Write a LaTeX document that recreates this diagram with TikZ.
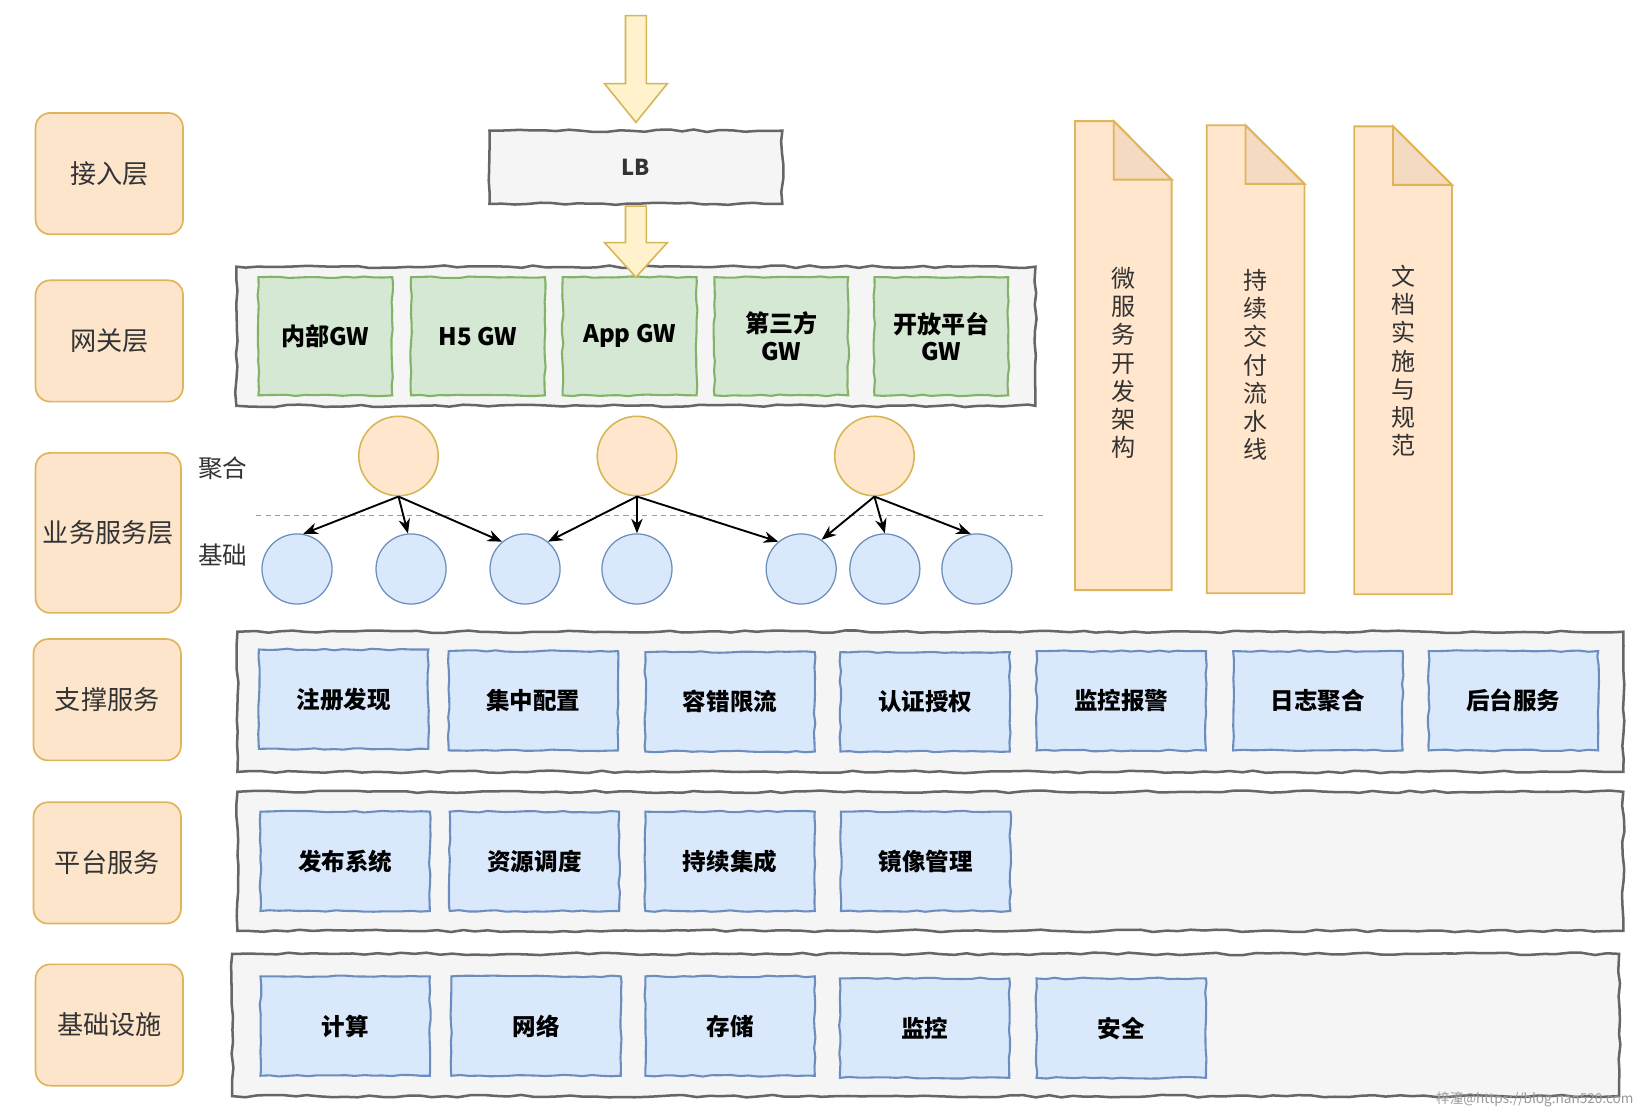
\documentclass[tikz,border=0pt]{standalone}
\usepackage{fontspec}
\setmainfont{Noto Sans CJK SC}
\usetikzlibrary{arrows.meta,decorations.pathmorphing}
\definecolor{lblfill}{HTML}{FDE5CC}
\definecolor{lblstroke}{HTML}{E0B45A}
\definecolor{cfill}{HTML}{F5F5F5}
\definecolor{cstroke}{HTML}{666666}
\definecolor{gfill}{HTML}{D5E8D4}
\definecolor{gstroke}{HTML}{82B366}
\definecolor{bfill}{HTML}{DAE8FC}
\definecolor{bstroke}{HTML}{6C8EBF}
\definecolor{ofill}{HTML}{FFE6CC}
\definecolor{foldfill}{HTML}{F3DAC0}
\definecolor{yfill}{HTML}{FFF2CC}
\definecolor{ystroke}{HTML}{D6B656}
\definecolor{txt}{HTML}{333333}
\begin{document}
\begin{tikzpicture}[x=1pt,y=-1pt,
  labelbox/.style={draw=lblstroke, fill=lblfill, rounded corners=14pt, line width=1.6pt,
    font=\fontsize{25}{30}\selectfont, text=txt, inner sep=0pt},
  container/.style={draw=cstroke, fill=cfill, line width=2.4pt, decorate,
    decoration={random steps, segment length=12pt, amplitude=1.2pt}, inner sep=0pt},
  gbox/.style={draw=gstroke, fill=gfill, line width=2pt, decorate,
    decoration={random steps, segment length=9pt, amplitude=0.8pt},
    font=\bfseries\fontsize{23}{26}\selectfont, align=center, text=black,
    minimum width=128pt, minimum height=113pt, inner sep=0pt},
  bbox/.style={draw=bstroke, fill=bfill, line width=2pt, decorate,
    decoration={random steps, segment length=9pt, amplitude=0.8pt},
    font=\bfseries\fontsize{22.5}{26}\selectfont, text=black,
    minimum width=162pt, minimum height=95pt, inner sep=0pt},
  ocirc/.style={circle, draw=ystroke, fill=ofill, minimum size=76pt, line width=1.5pt, inner sep=0pt},
  bcirc/.style={circle, draw=bstroke, fill=bfill, minimum size=67pt, line width=1.2pt, inner sep=0pt},
  link/.style={-{Stealth[length=14pt,width=11pt]}, line width=1.8pt, black},
  docshape/.style={fill=ofill, draw=lblstroke, line width=1.8pt},
  doctext/.style={font=\fontsize{23}{27}\selectfont, text=txt, align=center, inner sep=0pt},
  blockarrow/.style={fill=yfill, draw=ystroke, line width=1.5pt, line join=miter},
  side/.style={font=\fontsize{23.5}{27}\selectfont, text=txt, inner sep=0pt}
]
\pgfmathsetseed{7}
\useasboundingbox (0,0) rectangle (1568,1067);
\fill[white] (0,0) rectangle (1568,1067);

% left labels
\node[labelbox, minimum width=141pt, minimum height=116pt] (L1) at (104.5,166) {接入层};
\node[labelbox, minimum width=141pt, minimum height=116pt] (L2) at (104.5,326) {网关层};
\node[labelbox, minimum width=139pt, minimum height=153pt] (L3) at (103.5,509.5) {业务服务层};
\node[labelbox, minimum width=141pt, minimum height=116pt] (L4) at (102.5,669) {支撑服务};
\node[labelbox, minimum width=141pt, minimum height=116pt] (L5) at (102.5,825) {平台服务};
\node[labelbox, minimum width=141pt, minimum height=116pt] (L6) at (104.5,980) {基础设施};

% LB
\node[container, minimum width=280pt, minimum height=70pt, font=\bfseries\fontsize{21}{24}\selectfont, text=txt] (LB) at (608,160) {LB};

% gateway layer
\node[container, minimum width=764pt, minimum height=133pt] (GWC) at (608,321.5) {};
\node[gbox] (g1) at (311,321.5) {内部GW};
\node[gbox] (g2) at (457,321.5) {H5 GW};
\node[gbox] (g3) at (602,321.5) {App GW};
\node[gbox] (g4) at (747,321.5) {第三方\\GW};
\node[gbox] (g5) at (900,321.5) {开放平台\\GW};

% block arrows
\draw[blockarrow] (598,15) -- (618,15) -- (618,80) -- (638,80) -- (608,117) -- (578,80) -- (598,80) -- cycle;
\draw[blockarrow] (598,197) -- (618,197) -- (618,232) -- (638,232) -- (608,265) -- (578,232) -- (598,232) -- cycle;

% business layer
\coordinate (dl1) at (245,493);
\coordinate (dl2) at (998,493);
\draw[gstroke, dashed, line width=1.2pt, dash pattern=on 5pt off 4pt] (dl1) -- (dl2);
\node[side] (agg) at (213,448) {聚合};
\node[side] (base) at (213,531) {基础};

\node[ocirc] (o1) at (381,436) {};
\node[ocirc] (o2) at (609,436) {};
\node[ocirc] (o3) at (836,436) {};
\node[bcirc] (b1) at (284,544) {};
\node[bcirc] (b2) at (393,544) {};
\node[bcirc] (b3) at (502,544) {};
\node[bcirc] (b4) at (609,544) {};
\node[bcirc] (b5) at (766,544) {};
\node[bcirc] (b6) at (846,544) {};
\node[bcirc] (b7) at (934,544) {};

\draw[link] (o1.south) -- (b1.80);
\draw[link] (o1.south) -- (b2.95);
\draw[link] (o1.south) -- (b3.130);
\draw[link] (o2.south) -- (b3.50);
\draw[link] (o2.south) -- (b4.north);
\draw[link] (o2.south) -- (b5.130);
\draw[link] (o3.south) -- (b5.55);
\draw[link] (o3.south) -- (b6.north);
\draw[link] (o3.south) -- (b7.100);

% documents
\node[minimum width=92pt, minimum height=448pt, inner sep=0pt] (d1) at (1074,340) {};
\node[minimum width=93pt, minimum height=447pt, inner sep=0pt] (d2) at (1200.5,343.5) {};
\node[minimum width=93pt, minimum height=447pt, inner sep=0pt] (d3) at (1341.5,344.5) {};
\foreach \d in {d1,d2,d3}{
  \draw[docshape] (\d.north west) -- ([xshift=37pt]\d.north west) -- ([yshift=-56pt]\d.north east)
     -- (\d.south east) -- (\d.south west) -- cycle;
  \draw[docshape, fill=foldfill] ([xshift=37pt]\d.north west) -- ([xshift=37pt,yshift=-56pt]\d.north west)
     -- ([yshift=-56pt]\d.north east) -- cycle;
}
\node[doctext] (t1) at (1074,347) {微\\服\\务\\开\\发\\架\\构};
\node[doctext] (t2) at (1200,349) {持\\续\\交\\付\\流\\水\\线};
\node[doctext] (t3) at (1342,345) {文\\档\\实\\施\\与\\规\\范};

% support services
\node[container, minimum width=1325pt, minimum height=134pt] (SC) at (889.5,671) {};
\node[bbox] (s1) at (328.5,668.5) {注册发现};
\node[bbox] (s2) at (510,670) {集中配置};
\node[bbox] (s3) at (698,671) {容错限流};
\node[bbox] (s4) at (884.5,671) {认证授权};
\node[bbox] (s5) at (1072,670) {监控报警};
\node[bbox] (s6) at (1260,670) {日志聚合};
\node[bbox] (s7) at (1447,670) {后台服务};

% platform services
\node[container, minimum width=1325pt, minimum height=133pt] (PC) at (889.5,823.5) {};
\node[bbox] (p1) at (330,823.5) {发布系统};
\node[bbox] (p2) at (511,823.5) {资源调度};
\node[bbox] (p3) at (698,823.5) {持续集成};
\node[bbox] (p4) at (885,823.5) {镜像管理};

% infrastructure
\node[container, minimum width=1326pt, minimum height=136pt] (IC) at (885,980) {};
\node[bbox] (i1) at (330,981) {计算};
\node[bbox] (i2) at (512.5,981) {网络};
\node[bbox] (i3) at (698,981) {存储};
\node[bbox] (i4) at (884,983) {监控};
\node[bbox] (i5) at (1072,983) {安全};

% watermark
\node[anchor=east, font=\fontsize{13}{15}\selectfont, text=gray!80, inner sep=0pt] (wm) at (1562,1051) {梓潼@https://blog.nan520.com};
\end{tikzpicture}
\end{document}
